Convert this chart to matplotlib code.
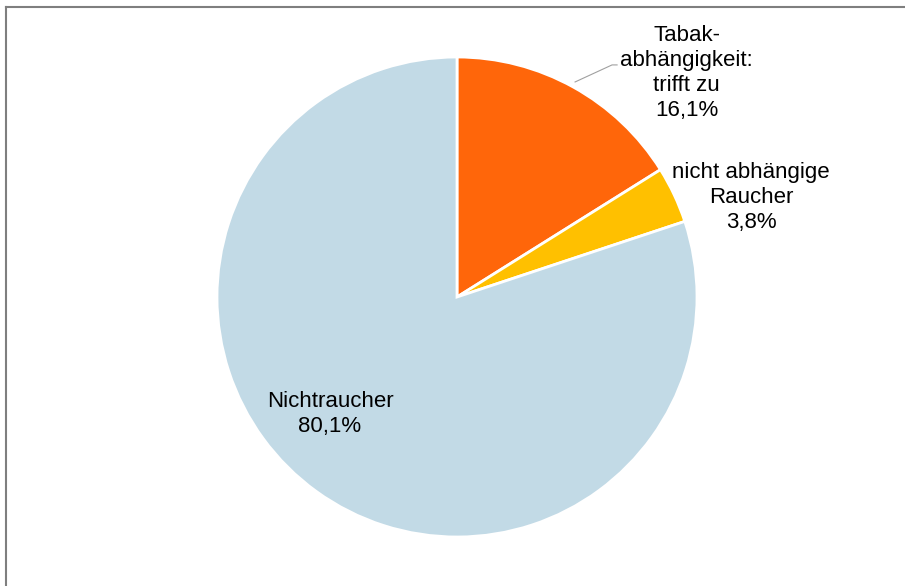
import matplotlib.pyplot as plt
from matplotlib.lines import Line2D

plt.rcParams['font.family'] = ['Liberation Sans', 'DejaVu Sans']

# data
labels = ['Tabak-\nabhängigkeit:\ntrifft zu', 'nicht abhängige\nRaucher', 'Nichtraucher']
shares = [16.1, 3.8, 80.1]
colors = ['#FF660A', '#FFC000', '#C2DAE6']

# label centres (data coords, pie radius = 1)
label_pos = [(0.957, 0.933), (1.225, 0.413), (-0.529, -0.488)]

fig = plt.figure(figsize=(9.05, 5.86), dpi=100)
ax = fig.add_axes([0, 0, 1, 1])

wedges, _ = ax.pie(shares, colors=colors, startangle=90, counterclock=False,
                   radius=1.0, wedgeprops=dict(edgecolor='white', linewidth=2))

for lab, val, (x, y) in zip(labels, shares, label_pos):
    txt = lab + '\n' + ('%.1f' % val).replace('.', ',') + '%'
    ax.text(x, y, txt, ha='center', va='center', fontsize=16,
            linespacing=1.25, color='black')

# leader line for the first label
ax.plot([0.492, 0.646, 0.667], [0.896, 0.967, 0.967], color='#A0A0A0', lw=0.8)

# map data units to pixels: centre at (457, 297) px, radius 240 px
ax.set_xlim(-457 / 240, (905 - 457) / 240)
ax.set_ylim((297 - 586) / 240, 297 / 240)
ax.set_aspect('auto')
ax.axis('off')

# chart frame (top and left edges visible)
fig.add_artist(Line2D([5.5 / 905, 1], [1 - 6.5 / 586, 1 - 6.5 / 586], color='#7F7F7F', lw=1.5))
fig.add_artist(Line2D([5.5 / 905, 5.5 / 905], [0, 1 - 6.5 / 586], color='#7F7F7F', lw=1.5))

fig.savefig('out.png', dpi=100)
